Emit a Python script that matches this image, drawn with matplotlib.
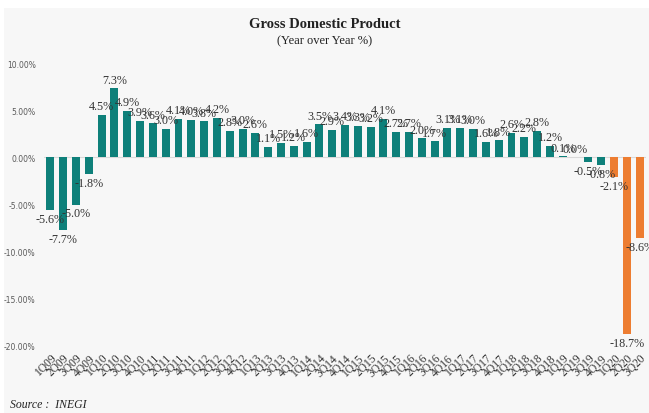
import matplotlib.pyplot as plt
from matplotlib.patches import Rectangle
from matplotlib.ticker import FuncFormatter

# Trimestres 1Q09 .. 3Q20
years = list(range(2009, 2021))
quarters = [f"{q}Q{str(y)[2:]}" for y in years for q in range(1, 5)][:47]

gdp = [-5.6, -7.7, -5.0, -1.8,
       4.5, 7.3, 4.9, 3.9,
       3.6, 3.0, 4.1, 4.0,
       3.8, 4.2, 2.8, 3.0,
       2.6, 1.1, 1.5, 1.2,
       1.6, 3.5, 2.9, 3.4,
       3.3, 3.2, 4.1, 2.7,
       2.7, 2.0, 1.7, 3.1,
       3.1, 3.0, 1.6, 1.8,
       2.6, 2.2, 2.8, 1.2,
       0.1, 0.0, -0.5, -0.8,
       -2.1, -18.7, -8.6]

teal = "#0E807A"
orange = "#ED7D31"
bg = "#F7F7F7"

fig = plt.figure(figsize=(6.49, 4.14), dpi=100, facecolor="white")
fig.patches.append(Rectangle((4 / 649, 0), 1, 1 - 9 / 414, transform=fig.transFigure,
                             facecolor=bg, edgecolor="none", zorder=-10))

ax = fig.add_axes([44 / 649, (414 - 347) / 414, 602 / 649, (347 - 64) / 414])
ax.patch.set_alpha(0)

colors = [orange if q.endswith("20") else teal for q in quarters]
x = range(len(gdp))
ax.bar(x, gdp, width=0.62, color=colors, zorder=2)

for xi, v in zip(x, gdp):
    ax.annotate(f"{v:.1f}%", (xi, v), xytext=(0, 2 if v >= 0 else -2),
                textcoords="offset points", ha="center",
                va="bottom" if v >= 0 else "top",
                fontsize=8.7, family="Liberation Serif", color="#333333",
                annotation_clip=False)

ax.axhline(0, color="#D9D9D9", lw=0.8, zorder=1)
ax.set_xlim(-0.5, len(gdp) - 0.5)
ax.set_ylim(-20, 10)
ax.set_yticks([-20, -15, -10, -5, 0, 5, 10])
ax.yaxis.set_major_formatter(FuncFormatter(lambda v, p: f"{v:.2f}%"))
ax.set_xticks(list(x))
ax.set_xticklabels(quarters, rotation=45, ha="right", rotation_mode="anchor",
                   fontsize=8.3, family="Liberation Serif", color="#333333")
ax.tick_params(axis="y", labelsize=5.5, colors="#595959", length=0, pad=6)
ax.tick_params(axis="x", length=0, pad=4)
for s in ax.spines.values():
    s.set_visible(False)

fig.text(0.5, 1 - 24 / 414, "Gross Domestic Product", ha="center", va="center",
         fontsize=10.5, fontweight="bold", family="Liberation Serif", color="#222222")
fig.text(0.5, 1 - 41 / 414, "(Year over Year %)", ha="center", va="center",
         fontsize=9, family="Liberation Serif", color="#222222")
fig.text(10 / 649, 1 - 405 / 414, "Source :  INEGI", ha="left", va="center",
         fontsize=8.5, style="italic", family="Liberation Serif", color="#222222")

fig.savefig("out.png", dpi=100, facecolor=fig.get_facecolor())
